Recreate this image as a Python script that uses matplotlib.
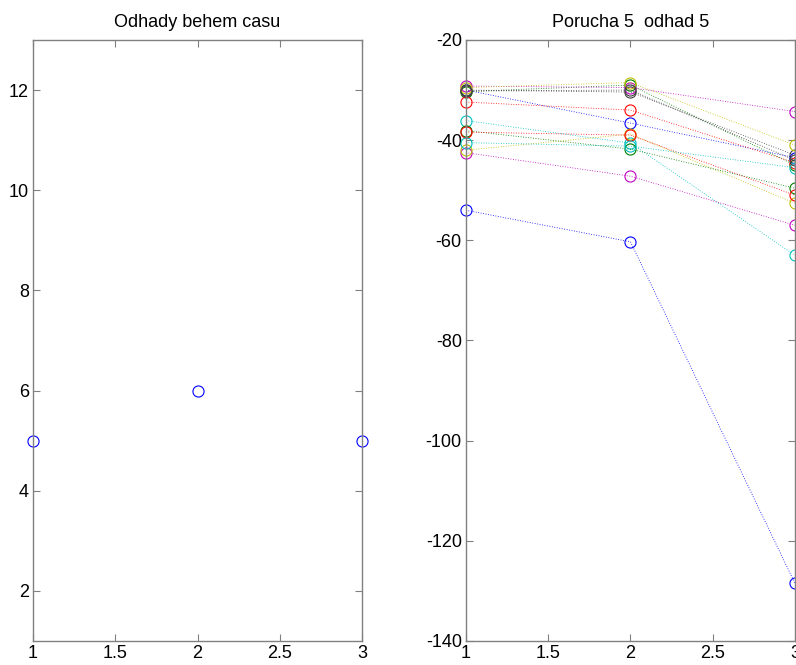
import matplotlib.pyplot as plt

plt.rcParams['font.family'] = ['Liberation Sans', 'DejaVu Sans']
plt.rcParams['axes.unicode_minus'] = False

# left panel: estimates over time
t_est = [1, 2, 3]
odhady = [5, 6, 5]

# right panel: one line per estimate, values at t = 1, 2, 3
t = [1, 2, 3]
series = [
    [-30.0, -36.6, -43.5],
    [-30.3, -29.0, -45.0],
    [-32.4, -34.0, -44.5],
    [-36.1, -40.6, -63.0],
    [-42.5, -47.2, -57.0],
    [-42.0, -38.8, -52.6],
    [-30.0, -30.4, -43.0],
    [-54.0, -60.3, -128.5],
    [-38.1, -41.8, -49.6],
    [-38.4, -39.0, -51.0],
    [-40.5, -41.2, -45.5],
    [-29.2, -29.5, -34.3],
    [-29.5, -28.5, -41.0],
    [-30.2, -30.0, -44.0],
]

# old matlab colour order b g r c m y k
colors = [(0, 0, 1), (0, 0.5, 0), (1, 0, 0), (0, 0.75, 0.75),
          (0.75, 0, 0.75), (0.75, 0.75, 0), (0.25, 0.25, 0.25)]

fig = plt.figure(figsize=(7.96, 6.65), dpi=100)
ax1 = fig.add_axes([0.0415, 0.0361, 0.4133, 0.9038])
ax2 = fig.add_axes([0.5854, 0.0361, 0.4133, 0.9038])


def matlab_style(ax):
    for s in ax.spines.values():
        s.set_color('#808080')
        s.set_linewidth(1.0)
    ax.tick_params(direction='in', length=5, width=0.8, color='#808080',
                   labelsize=13, top=True, right=True, pad=3)


ax1.plot(t_est, odhady, 'o', color='#0000ff', markersize=8,
         markerfacecolor='none', markeredgewidth=0.8, clip_on=False)
ax1.set_xlim(1, 3)
ax1.set_ylim(1, 13)
ax1.set_xticks([1, 1.5, 2, 2.5, 3])
ax1.set_xticklabels(['1', '1.5', '2', '2.5', '3'])
ax1.set_yticks([2, 4, 6, 8, 10, 12])
ax1.set_title('Odhady behem casu', fontsize=13, pad=9)
matlab_style(ax1)

for i, s in enumerate(series):
    c = colors[i % len(colors)]
    ax2.plot(t, s, marker='o', linestyle=(0, (1, 2)), linewidth=0.6, color=c,
             markersize=8, markerfacecolor='none', markeredgewidth=0.8,
             clip_on=False)
ax2.set_xlim(1, 3)
ax2.set_ylim(-140, -20)
ax2.set_xticks([1, 1.5, 2, 2.5, 3])
ax2.set_xticklabels(['1', '1.5', '2', '2.5', '3'])
ax2.set_yticks([-140, -120, -100, -80, -60, -40, -20])
ax2.set_title('Porucha 5  odhad 5', fontsize=13, pad=9)
matlab_style(ax2)

fig.savefig('out.png', dpi=100, facecolor='white')
